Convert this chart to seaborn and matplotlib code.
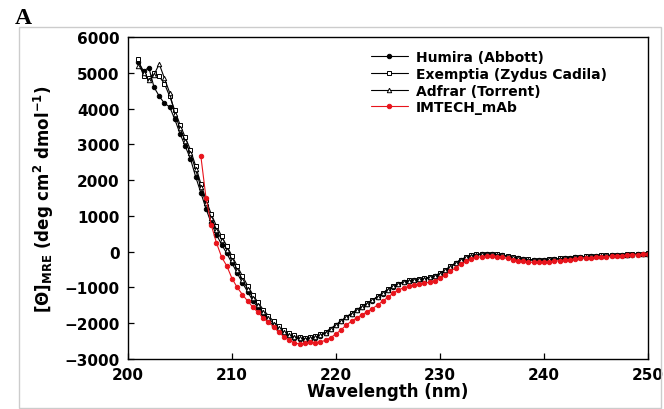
"""CD spectra (far-UV) of adalimumab biosimilars vs IMTECH_mAb."""

import matplotlib
matplotlib.use("Agg")
import matplotlib.pyplot as plt
import numpy as np
import pandas as pd
import seaborn as sns
from matplotlib.patches import Rectangle

# Wavelength grid (nm), 0.5 nm steps, 201 -> 250
WAVELENGTH = np.arange(201.0, 250.25, 0.5)

HUMIRA = [
    5300, 5050, 5150, 4600, 4350, 4150, 4050, 3700, 3300, 2950,
    2600, 2100, 1650, 1200, 800, 480, 200, -50, -320, -600,
    -870, -1120, -1370, -1570, -1770, -1920, -2070, -2190, -2290, -2360,
    -2410, -2440, -2450, -2430, -2400, -2350, -2270, -2170, -2060, -1950,
    -1840, -1740, -1640, -1550, -1460, -1370, -1270, -1170, -1070, -980,
    -910, -860, -820, -800, -780, -760, -730, -690, -620, -530,
    -430, -330, -240, -170, -120, -90, -75, -70, -70, -85,
    -105, -135, -165, -190, -210, -225, -235, -235, -230, -220,
    -210, -200, -190, -175, -160, -150, -140, -130, -120, -115,
    -110, -105, -100, -95, -85, -80, -70, -65, -60,
]

EXEMPTIA = [
    5400, 4900, 4850, 5000, 4900, 4700, 4350, 3950, 3550, 3200,
    2850, 2400, 1900, 1450, 1050, 720, 430, 160, -120, -400,
    -680, -950, -1200, -1420, -1620, -1790, -1950, -2080, -2190, -2280,
    -2340, -2380, -2400, -2390, -2360, -2310, -2240, -2150, -2040, -1930,
    -1820, -1720, -1620, -1530, -1440, -1350, -1250, -1150, -1050, -960,
    -890, -840, -800, -780, -760, -740, -710, -670, -600, -510,
    -410, -310, -220, -150, -100, -70, -60, -55, -60, -75,
    -95, -125, -155, -180, -200, -215, -225, -225, -220, -210,
    -200, -190, -180, -165, -150, -140, -130, -120, -110, -105,
    -100, -95, -90, -85, -75, -70, -60, -55, -50,
]

ADFRAR = [
    5200, 5000, 4800, 4950, 5250, 4850, 4450, 3850, 3450, 3100,
    2750, 2300, 1800, 1350, 950, 620, 330, 60, -220, -500,
    -780, -1040, -1290, -1500, -1700, -1860, -2010, -2140, -2250, -2330,
    -2380, -2420, -2430, -2420, -2390, -2340, -2260, -2160, -2050, -1940,
    -1830, -1730, -1630, -1540, -1450, -1360, -1260, -1160, -1060, -970,
    -900, -850, -810, -790, -770, -750, -720, -680, -610, -520,
    -420, -320, -230, -160, -110, -80, -65, -60, -65, -80,
    -100, -130, -160, -185, -205, -220, -230, -230, -225, -215,
    -205, -195, -185, -170, -155, -145, -135, -125, -115, -110,
    -105, -100, -95, -90, -80, -75, -65, -60, -55,
]

# IMTECH_mAb starts at 207 nm
WAVELENGTH_IMTECH = np.arange(207.0, 250.25, 0.5)
IMTECH = [
    2680, 1500, 750, 250, -150, -400, -750, -1000, -1200, -1380,
    -1550, -1700, -1850, -1970, -2100, -2250, -2380, -2480, -2550, -2580,
    -2560, -2530, -2540, -2520, -2480, -2400, -2300, -2180, -2050, -1940,
    -1850, -1760, -1680, -1590, -1490, -1380, -1270, -1160, -1070, -1010,
    -970, -940, -910, -880, -850, -810, -740, -650, -550, -450,
    -350, -270, -200, -160, -140, -130, -125, -135, -160, -190,
    -220, -250, -270, -290, -300, -300, -295, -280, -265, -250,
    -235, -220, -205, -190, -180, -170, -160, -150, -140, -130,
    -120, -110, -100, -90, -85, -75, -70,
]

SERIES = [
    ("Humira (Abbott)", WAVELENGTH, HUMIRA, "o", "black", "black"),
    ("Exemptia (Zydus Cadila)", WAVELENGTH, EXEMPTIA, "s", "black", "white"),
    ("Adfrar (Torrent)", WAVELENGTH, ADFRAR, "^", "black", "white"),
    ("IMTECH_mAb", WAVELENGTH_IMTECH, IMTECH, "o", "#e8141c", "#e8141c"),
]

sns.set_style("ticks")
plt.rcParams["font.family"] = ["DejaVu Sans"]
plt.rcParams["font.weight"] = "bold"
plt.rcParams["text.color"] = "black"
plt.rcParams["axes.labelcolor"] = "black"
plt.rcParams["xtick.color"] = "black"
plt.rcParams["ytick.color"] = "black"
plt.rcParams["mathtext.fontset"] = "custom"
plt.rcParams["mathtext.rm"] = "DejaVu Sans:bold"
plt.rcParams["mathtext.it"] = "DejaVu Sans:bold"
plt.rcParams["mathtext.bf"] = "DejaVu Sans:bold"

fig = plt.figure(figsize=(6.64, 4.10), dpi=100)
ax = fig.add_axes([0.1928, 0.122, 0.7832, 0.785])

for label, wl, vals, marker, color, face in SERIES:
    df = pd.DataFrame({"wl": wl, "val": vals})
    sns.lineplot(
        data=df, x="wl", y="val", ax=ax, label=label,
        color=color, linewidth=0.8, marker=marker, markersize=3.2,
        markerfacecolor=face, markeredgecolor=color, markeredgewidth=0.7,
        sort=False,
    )

ax.set_xlim(200, 250)
ax.set_ylim(-3000, 6000)
ax.set_xticks(range(200, 251, 10))
ax.set_yticks(range(-3000, 6001, 1000))
ax.tick_params(direction="in", length=4, width=0.9, labelsize=11, pad=6,
               colors="black")
for lbl in ax.get_xticklabels() + ax.get_yticklabels():
    lbl.set_fontweight("bold")
for sp in ax.spines.values():
    sp.set_linewidth(1.0)
    sp.set_color("black")

ax.set_xlabel("Wavelength (nm)", fontsize=12, fontweight="bold", labelpad=0,
              color="black")
ax.set_ylabel(r"[$\Theta$]$_{\mathrm{MRE}}$ (deg cm$^{2}$ dmol$^{-1}$)",
              fontsize=12, fontweight="bold", labelpad=6, color="black")

leg = ax.legend(
    loc="upper left", bbox_to_anchor=(0.468, 0.96), frameon=False,
    prop={"weight": "bold", "size": 10}, handlelength=2.6,
    handletextpad=0.6, labelspacing=0.2, borderpad=0, borderaxespad=0,
)
for t in leg.get_texts():
    t.set_color("black")

fig.patches.append(Rectangle((19 / 664, 1 - 409 / 410), 642 / 664, 381 / 410,
                             transform=fig.transFigure, fill=False,
                             edgecolor="#cccccc", linewidth=1.0))
fig.text(0.022, 0.98, "A", fontsize=17, fontweight="bold",
         family="Liberation Serif", va="top", ha="left", color="black")

fig.savefig("out.png", dpi=100)
